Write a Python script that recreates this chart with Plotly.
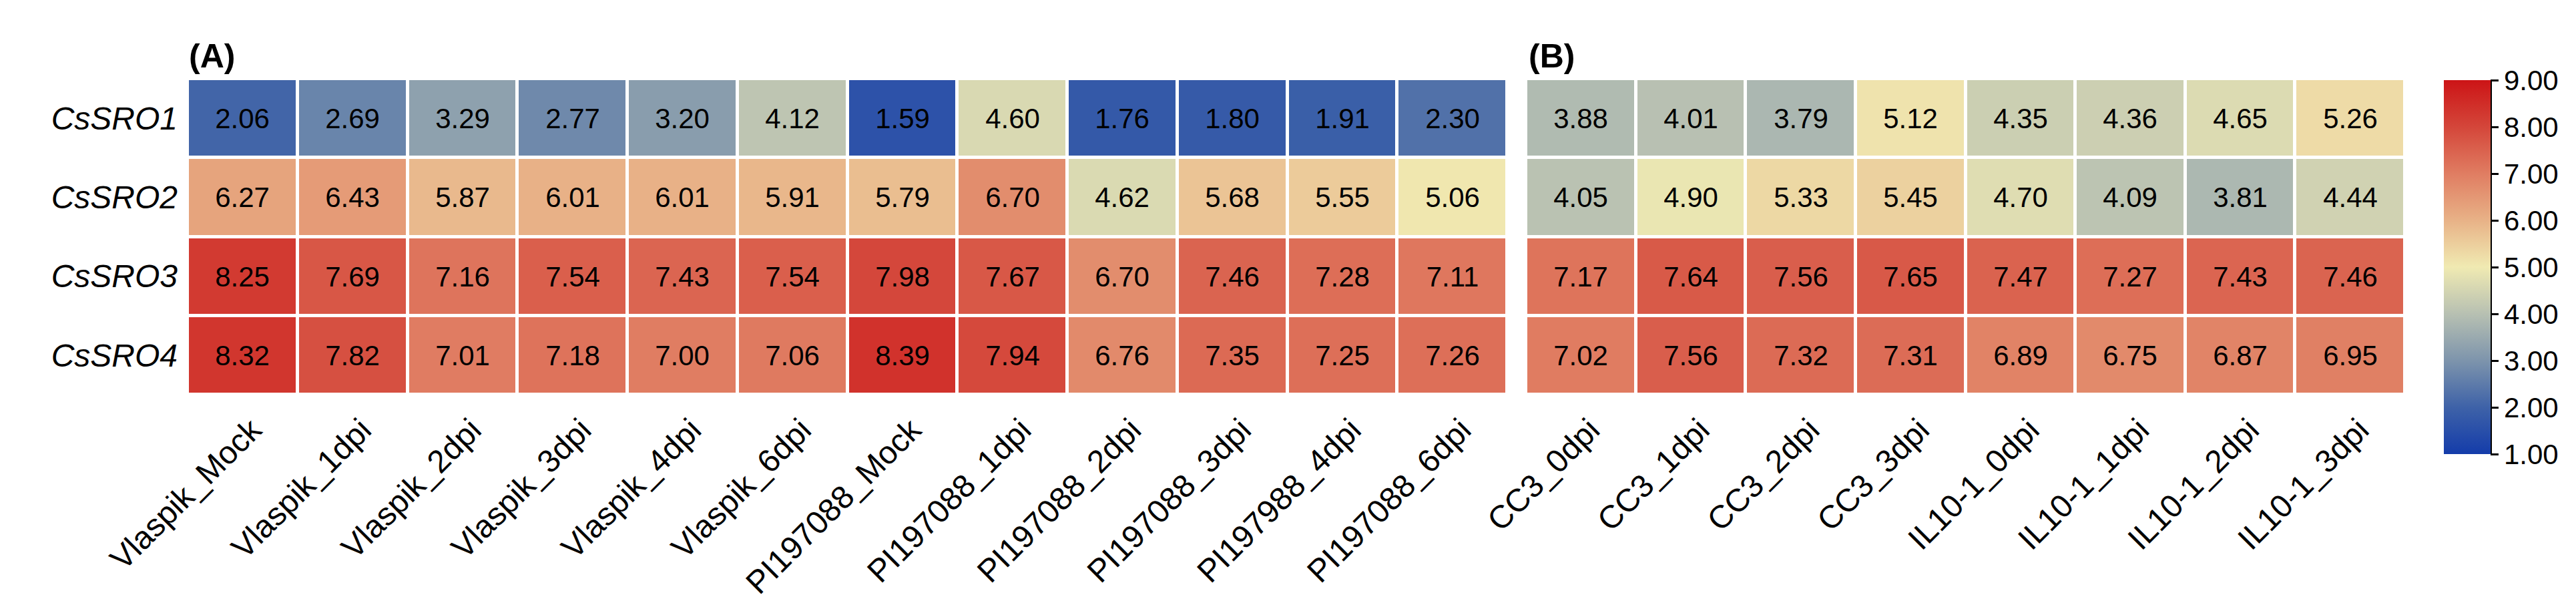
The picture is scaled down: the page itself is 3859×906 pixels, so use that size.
import plotly.graph_objects as go

W, H = 3859, 906

genes = ['CsSRO1', 'CsSRO2', 'CsSRO3', 'CsSRO4']

samples_a = ['Vlaspik_Mock', 'Vlaspik_1dpi', 'Vlaspik_2dpi', 'Vlaspik_3dpi', 'Vlaspik_4dpi',
             'Vlaspik_6dpi', 'PI197088_Mock', 'PI197088_1dpi', 'PI197088_2dpi', 'PI197088_3dpi',
             'PI197988_4dpi', 'PI197088_6dpi']
samples_b = ['CC3_0dpi', 'CC3_1dpi', 'CC3_2dpi', 'CC3_3dpi',
             'IL10-1_0dpi', 'IL10-1_1dpi', 'IL10-1_2dpi', 'IL10-1_3dpi']

# panel A, one list per gene
a_sro1 = [2.06, 2.69, 3.29, 2.77, 3.20, 4.12, 1.59, 4.60, 1.76, 1.80, 1.91, 2.30]
a_sro2 = [6.27, 6.43, 5.87, 6.01, 6.01, 5.91, 5.79, 6.70, 4.62, 5.68, 5.55, 5.06]
a_sro3 = [8.25, 7.69, 7.16, 7.54, 7.43, 7.54, 7.98, 7.67, 6.70, 7.46, 7.28, 7.11]
a_sro4 = [8.32, 7.82, 7.01, 7.18, 7.00, 7.06, 8.39, 7.94, 6.76, 7.35, 7.25, 7.26]

# panel B
b_sro1 = [3.88, 4.01, 3.79, 5.12, 4.35, 4.36, 4.65, 5.26]
b_sro2 = [4.05, 4.90, 5.33, 5.45, 4.70, 4.09, 3.81, 4.44]
b_sro3 = [7.17, 7.64, 7.56, 7.65, 7.47, 7.27, 7.43, 7.46]
b_sro4 = [7.02, 7.56, 7.32, 7.31, 6.89, 6.75, 6.87, 6.95]

cbar_ticks = [1, 2, 3, 4, 5, 6, 7, 8, 9]

# blue - grey - pale yellow - red, 1..9
cscale = [
    [0.000, 'rgb(20,60,170)'],
    [0.125, 'rgb(62,98,168)'],
    [0.250, 'rgb(125,148,172)'],
    [0.375, 'rgb(183,192,178)'],
    [0.500, 'rgb(240,234,178)'],
    [0.625, 'rgb(232,178,135)'],
    [0.750, 'rgb(224,125,98)'],
    [0.875, 'rgb(212,70,58)'],
    [1.000, 'rgb(204,20,22)'],
]

FONT = 'Liberation Sans, Arial, sans-serif'


def px(x):
    return x / W


def py(y):
    return 1 - y / H


cell_font = dict(family=FONT, size=42, color='black')

fig = go.Figure()
fig.add_trace(go.Heatmap(
    z=[a_sro1, a_sro2, a_sro3, a_sro4], x=samples_a, y=genes,
    xaxis='x', yaxis='y', colorscale=cscale, zmin=1, zmax=9,
    xgap=5, ygap=5, texttemplate='%{z:.2f}', textfont=cell_font,
    colorbar=dict(
        x=px(3653), xanchor='left', xpad=0,
        y=py(112), yanchor='top', ypad=0,
        len=560, lenmode='pixels', thickness=70, thicknessmode='pixels',
        outlinewidth=0, tickvals=cbar_ticks, tickformat='.2f',
        ticks='outside', ticklen=12, tickwidth=3, tickcolor='black',
        tickfont=dict(family=FONT, size=42, color='black'),
    ),
))
fig.add_trace(go.Heatmap(
    z=[b_sro1, b_sro2, b_sro3, b_sro4], x=samples_b, y=genes,
    xaxis='x2', yaxis='y', colorscale=cscale, zmin=1, zmax=9,
    xgap=5, ygap=5, texttemplate='%{z:.2f}', textfont=cell_font,
    showscale=False,
))

xfont = dict(family=FONT, size=48, color='black')
xcommon = dict(anchor='y', tickangle=-45, ticks='', automargin=False, showgrid=False,
               zeroline=False, tickfont=xfont, ticklabelstandoff=14, ticklabelshift=14)
fig.update_layout(
    width=W, height=H,
    margin=dict(l=0, r=0, t=0, b=0, autoexpand=False),
    paper_bgcolor='white', plot_bgcolor='white',
    xaxis=dict(domain=[px(273), px(2250)], **xcommon),
    xaxis2=dict(domain=[px(2278), px(3595)], **xcommon),
    yaxis=dict(domain=[py(583), py(110)], autorange='reversed', ticks='',
               automargin=False, showgrid=False, zeroline=False, ticklabelstandoff=14,
               tickfont=dict(family=FONT, size=48, color='black', style='italic')),
    showlegend=False,
)

# black spine on the right of the colour bar
fig.add_shape(type='line', xref='paper', yref='paper',
              x0=px(3723), x1=px(3723), y0=py(112), y1=py(672),
              line=dict(color='black', width=4))

for label, x0 in [('(A)', 273), ('(B)', 2280)]:
    fig.add_annotation(text='<b>%s</b>' % label, xref='paper', yref='paper',
                       x=px(x0), y=py(106), xanchor='left', yanchor='bottom',
                       showarrow=False, font=dict(family=FONT, size=50, color='black'))

fig.write_html('out.html')
